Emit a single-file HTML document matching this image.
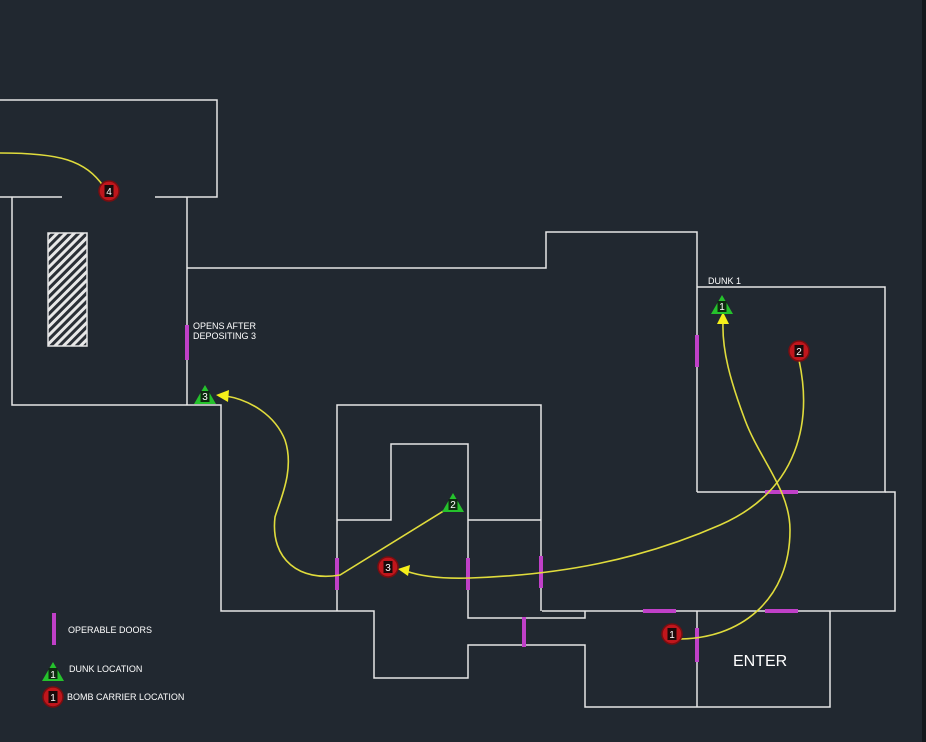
<!DOCTYPE html>
<html><head><meta charset="utf-8"><style>
html,body{margin:0;padding:0;background:#212830;}
svg{display:block}
text{font-family:"Liberation Sans",sans-serif;fill:#fff}
</style></head><body>
<svg width="926" height="742" viewBox="0 0 926 742" xmlns="http://www.w3.org/2000/svg">
<defs>
<pattern id="h" patternUnits="userSpaceOnUse" width="6" height="6" patternTransform="rotate(45)">
<rect width="6" height="6" fill="#2a2f36"/>
<rect x="0" y="0" width="3" height="6" fill="#e8e8e8"/>
</pattern>
<g id="tri"><polygon points="0,-11 11,8 -11,8" fill="#25c22c"/><rect x="-4.5" y="-5" width="9" height="11" fill="#0f2a10"/></g>
<g id="circ"><circle r="10" fill="#c0161c" stroke="#7a0d10" stroke-width="1.5"/><rect x="-4.5" y="-6" width="9" height="12" fill="#1a0a0a"/></g>
</defs>
<rect width="926" height="742" fill="#212830"/>
<rect x="922" y="0" width="4" height="742" fill="#14181c"/>
<g stroke="#e6e6e6" stroke-width="1.5" fill="none">
<polyline points="0,100 217,100 217,197 155,197"/>
<polyline points="0,197 62,197"/>
<polyline points="12,197 12,405 221,405 221,611 374,611 374,678 468,678 468,645 585,645 585,707 830,707 830,611"/>
<line x1="187" y1="197" x2="187" y2="405"/>
<polyline points="187,268 546,268 546,232 697,232 697,492"/>
<polyline points="697,287 885,287 885,492 697,492"/>
<polyline points="885,492 895,492 895,611 542,611"/>
<polyline points="337,611 337,405 541,405 541,611"/>
<polyline points="337,520 391,520 391,444 468,444 468,618 585,618 585,611"/>
<line x1="468" y1="520" x2="541" y2="520"/>
<line x1="697" y1="611" x2="697" y2="707"/>
</g>
<rect x="48" y="233" width="39" height="113" fill="url(#h)" stroke="#e6e6e6" stroke-width="1.5"/>
<g fill="none" stroke="#c040c8" stroke-width="4">
<line x1="187" y1="325" x2="187" y2="360"/>
<line x1="697" y1="335" x2="697" y2="367"/>
<line x1="337" y1="558" x2="337" y2="590"/>
<line x1="468" y1="558" x2="468" y2="590"/>
<line x1="541" y1="556" x2="541" y2="588"/>
<line x1="524" y1="617" x2="524" y2="647"/>
<line x1="697" y1="628" x2="697" y2="662"/>
<line x1="765" y1="492" x2="798" y2="492"/>
<line x1="643" y1="611" x2="676" y2="611"/>
<line x1="765" y1="611" x2="798" y2="611"/>
<line x1="54" y1="613" x2="54" y2="645"/>
</g>
<g fill="none" stroke="#e0dc3c" stroke-width="1.6">
<path d="M0,153 C60,153 85,160 104,187"/>
<path d="M450,507 L340,575 C300,582 270,560 275,517 C280,500 295,470 285,440 C275,415 250,400 226,396"/>
<path d="M799,360 C812,420 800,490 720,525 C640,560 560,575 470,578 C440,579 420,576 406,571"/>
<path d="M676,639 C740,640 790,600 790,530 C790,490 760,460 745,420 C730,380 722,350 723,322"/>
</g>
<g fill="#f5ef1a">
<polygon points="216,395 229,390 228,402"/>
<polygon points="398,569 410,565 408,576"/>
<polygon points="723,312 717,324 729,324"/>
</g>
<use href="#circ" x="109" y="191"/><text x="109" y="195" font-size="10" text-anchor="middle">4</text>
<use href="#circ" x="388" y="567"/><text x="388" y="571" font-size="10" text-anchor="middle">3</text>
<use href="#circ" x="799" y="351"/><text x="799" y="355" font-size="10" text-anchor="middle">2</text>
<use href="#circ" x="672" y="634"/><text x="672" y="638" font-size="10" text-anchor="middle">1</text>
<use href="#circ" x="53" y="697"/><text x="53" y="701" font-size="10" text-anchor="middle">1</text>
<use href="#tri" x="205" y="396"/><text x="205" y="400" font-size="10" text-anchor="middle">3</text>
<use href="#tri" x="453" y="504"/><text x="453" y="508" font-size="10" text-anchor="middle">2</text>
<use href="#tri" x="722" y="306"/><text x="722" y="310" font-size="10" text-anchor="middle">1</text>
<use href="#tri" x="53" y="673"/><text x="53" y="678" font-size="10" text-anchor="middle">1</text>
<text x="193" y="329" font-size="9">OPENS AFTER</text>
<text x="193" y="339" font-size="9">DEPOSITING 3</text>
<text x="708" y="284" font-size="9">DUNK 1</text>
<text x="733" y="666" font-size="16">ENTER</text>
<text x="68" y="633" font-size="9">OPERABLE DOORS</text>
<text x="69" y="672" font-size="9">DUNK LOCATION</text>
<text x="67" y="700" font-size="9">BOMB CARRIER LOCATION</text>
</svg>
</body></html>
